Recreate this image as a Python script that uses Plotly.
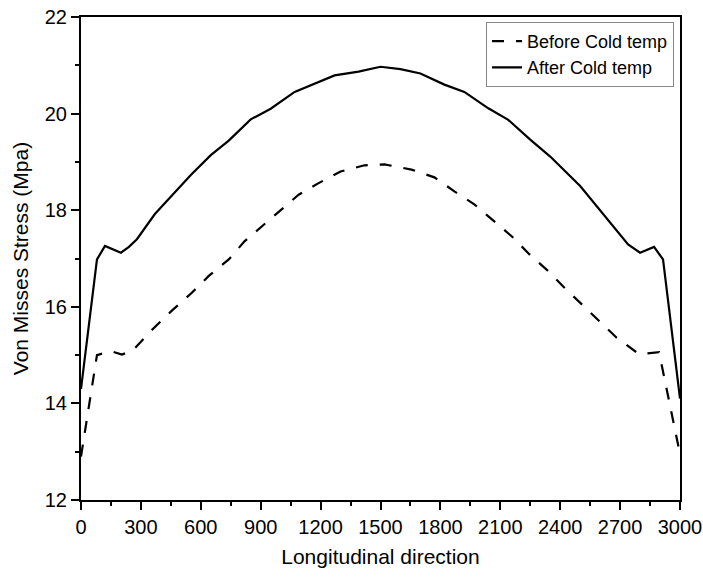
import plotly.graph_objects as go

# Data
x_before = [0, 80, 150, 205, 260, 350, 455, 555, 640, 740, 820, 915, 1000, 1090, 1190, 1300,
            1420, 1520, 1655, 1770, 1870, 1970, 2070, 2165, 2245, 2340, 2420, 2515, 2605, 2680,
            2795, 2895, 3000]
y_before = [12.9, 15.0, 15.08, 15.01, 15.1, 15.5, 15.92, 16.29, 16.64, 16.98, 17.36, 17.70,
            18.01, 18.32, 18.56, 18.80, 18.93, 18.95, 18.84, 18.68, 18.39, 18.12, 17.77, 17.43,
            17.09, 16.74, 16.40, 16.02, 15.68, 15.37, 15.02, 15.06, 12.95]

x_after = [0, 80, 120, 200, 240, 280, 370, 460, 550, 650, 740, 850, 950, 1070, 1170, 1270, 1390,
           1500, 1600, 1700, 1820, 1920, 2040, 2140, 2250, 2350, 2500, 2640, 2740, 2800, 2870,
           2915, 3000]
y_after = [14.3, 16.98, 17.26, 17.12, 17.24, 17.40, 17.92, 18.32, 18.73, 19.14, 19.44, 19.88,
           20.10, 20.45, 20.62, 20.79, 20.87, 20.97, 20.92, 20.83, 20.60, 20.45, 20.11, 19.87,
           19.46, 19.11, 18.50, 17.78, 17.29, 17.12, 17.24, 16.98, 14.1]

x_range = [0, 3000]
x_step = 300
y_range = [12, 22]
y_step = 2

FONT = "Liberation Sans, Arial, sans-serif"

fig = go.Figure()
fig.add_trace(go.Scatter(x=x_before, y=y_before, mode="lines", name="Before Cold temp",
                         line=dict(color="black", width=2.2, dash="12px,12px")))
fig.add_trace(go.Scatter(x=x_after, y=y_after, mode="lines", name="After Cold temp",
                         line=dict(color="black", width=2.2)))

axis_common = dict(showgrid=False, zeroline=False, showline=True, linecolor="black",
                   linewidth=2, mirror=True, ticks="outside", ticklen=8, tickwidth=2,
                   tickcolor="#000000", automargin=False, ticklabeloverflow="allow",
                   tickfont=dict(family=FONT, size=20, color="black"))

fig.update_xaxes(range=x_range, tick0=x_range[0], dtick=x_step,
                 minor=dict(ticks="outside", ticklen=4, tickwidth=2, tickcolor="#000000",
                            dtick=x_step / 2, tick0=x_range[0], showgrid=False),
                 title=dict(text="Longitudinal direction", font=dict(family=FONT, size=21, color="black"),
                            standoff=12),
                 **axis_common)
fig.update_yaxes(range=y_range, tick0=y_range[0], dtick=y_step,
                 minor=dict(ticks="outside", ticklen=4, tickwidth=2, tickcolor="#000000",
                            dtick=y_step / 2, tick0=y_range[0], showgrid=False),
                 title=dict(text="Von Misses Stress (Mpa)", font=dict(family=FONT, size=21, color="black"),
                            standoff=10),
                 **axis_common)

fig.update_layout(
    width=703, height=580,
    margin=dict(l=81, r=23, t=17, b=80),
    paper_bgcolor="white", plot_bgcolor="white",
    font=dict(family=FONT, color="black"),
    showlegend=True,
    legend=dict(x=0.99, y=0.99, xanchor="right", yanchor="top",
                bgcolor="white", bordercolor="#888888", borderwidth=1,
                font=dict(family=FONT, size=18, color="black"),
                tracegroupgap=0, itemwidth=30),
)

fig.write_html("out.html", config={"displayModeBar": False},
               post_script="document.body.style.margin='0';")
